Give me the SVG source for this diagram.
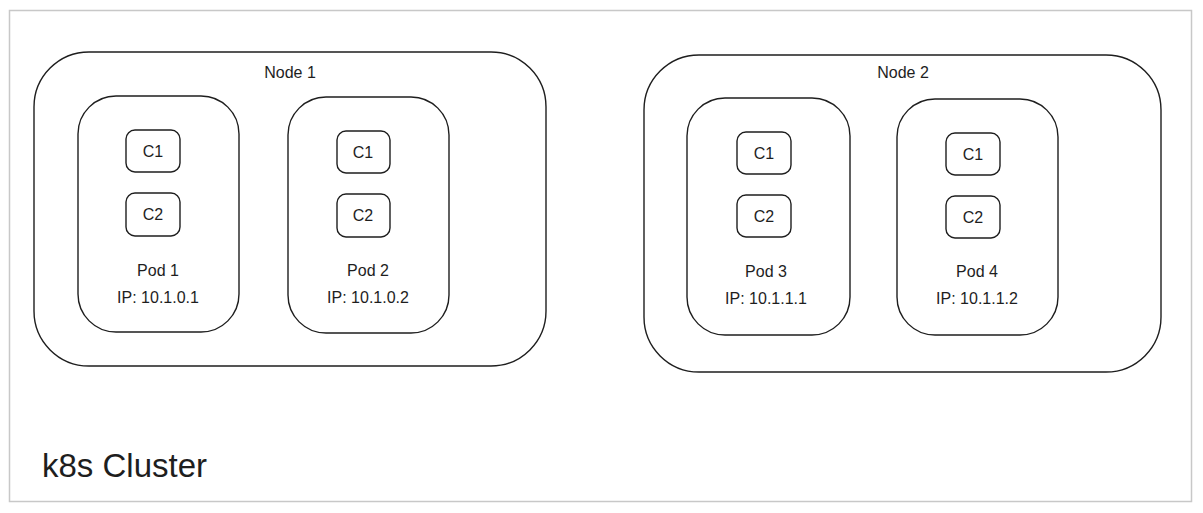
<svg xmlns="http://www.w3.org/2000/svg" width="1203" height="513" viewBox="0 0 1203 513">
<style>
.frame{fill:#fff;stroke:#c8c8c8;stroke-width:1.5}
.box{fill:none;stroke:#1e1e1e;stroke-width:1.4}
.t{font-family:"Liberation Sans",Arial,sans-serif;font-size:16px;fill:#1e1e1e;text-anchor:middle}
.big{font-family:"Liberation Sans",Arial,sans-serif;font-size:33px;fill:#1e1e1e}
</style>
<rect width="1203" height="513" fill="#fff"/>
<g id="cluster">
<rect class="frame" x="9.5" y="10.5" width="1182" height="491"/>
<text class="big" x="42" y="477">k8s Cluster</text>
</g>
<g id="node1">
<rect class="box" x="34" y="52" width="512" height="314" rx="55"/>
<text class="t" x="290" y="78">Node 1</text>
</g>
<g id="pod1">
<rect class="box" x="78" y="96" width="161" height="236" rx="38"/>
<text class="t" x="158" y="276">Pod 1</text>
<text class="t" x="158" y="303">IP: 10.1.0.1</text>
</g>
<g id="pod1-c1"><rect class="box" x="126" y="130" width="54" height="42" rx="9"/><text class="t" x="153" y="157">C1</text></g>
<g id="pod1-c2"><rect class="box" x="126" y="193" width="54" height="43" rx="9"/><text class="t" x="153" y="220">C2</text></g>
<g id="pod2">
<rect class="box" x="288" y="97" width="161" height="236" rx="38"/>
<text class="t" x="368" y="276">Pod 2</text>
<text class="t" x="368" y="303">IP: 10.1.0.2</text>
</g>
<g id="pod2-c1"><rect class="box" x="337" y="131" width="53" height="42" rx="9"/><text class="t" x="363" y="158">C1</text></g>
<g id="pod2-c2"><rect class="box" x="337" y="194" width="53" height="43" rx="9"/><text class="t" x="363" y="221">C2</text></g>
<g id="node2">
<rect class="box" x="644" y="55" width="517" height="317" rx="55"/>
<text class="t" x="903" y="78">Node 2</text>
</g>
<g id="pod3">
<rect class="box" x="687" y="98" width="163" height="237" rx="38"/>
<text class="t" x="766" y="277">Pod 3</text>
<text class="t" x="766" y="304">IP: 10.1.1.1</text>
</g>
<g id="pod3-c1"><rect class="box" x="737" y="132" width="54" height="42" rx="9"/><text class="t" x="764" y="159">C1</text></g>
<g id="pod3-c2"><rect class="box" x="737" y="195" width="54" height="42" rx="9"/><text class="t" x="764" y="222">C2</text></g>
<g id="pod4">
<rect class="box" x="897" y="99" width="161" height="236" rx="38"/>
<text class="t" x="977" y="277">Pod 4</text>
<text class="t" x="977" y="304">IP: 10.1.1.2</text>
</g>
<g id="pod4-c1"><rect class="box" x="946" y="133" width="54" height="42" rx="9"/><text class="t" x="973" y="160">C1</text></g>
<g id="pod4-c2"><rect class="box" x="946" y="196" width="54" height="42" rx="9"/><text class="t" x="973" y="223">C2</text></g>
<g id="connectors"></g>
</svg>
